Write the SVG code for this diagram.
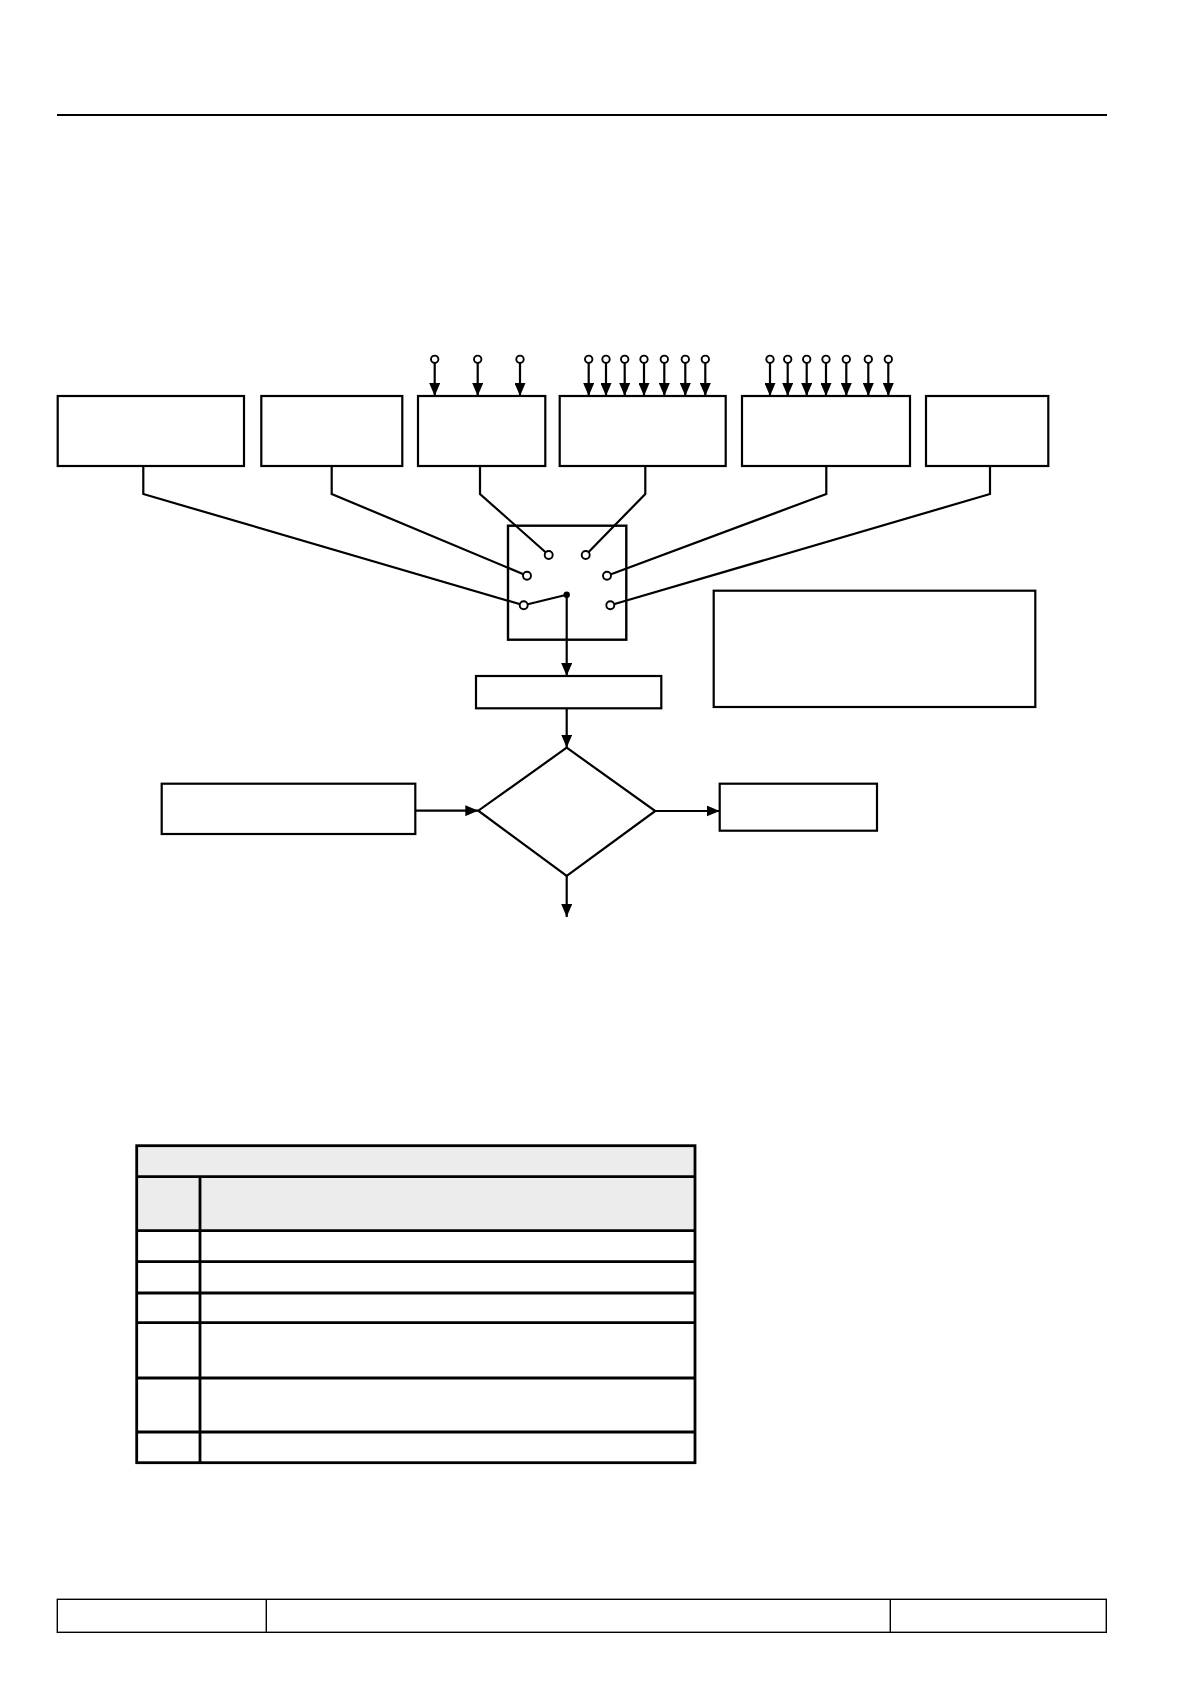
<svg xmlns="http://www.w3.org/2000/svg" width="1191" height="1684" viewBox="0 0 1191 1684">
<style>
.box{fill:#fff;stroke:#000;stroke-width:2.2}
.ln{fill:none;stroke:#000;stroke-width:2.2}
.pin{fill:#fff;stroke:#000;stroke-width:1.9}
.tbl{stroke:#000;stroke-width:2.8;fill:none}
.hdr{fill:#ececec}
.thin{fill:none;stroke:#000;stroke-width:1.4}
</style>
<defs>
<marker id="ah" markerUnits="userSpaceOnUse" markerWidth="13" markerHeight="11" refX="13" refY="5.5" orient="auto">
<path d="M0,0 L13,5.5 L0,11 Z" fill="#000"/>
</marker>
</defs>
<rect width="1191" height="1684" fill="#fff"/>
<line x1="57" y1="115" x2="1107" y2="115" stroke="#000" stroke-width="2.2"/>

<g id="connectors">
<polyline class="ln" points="143.3,466 143.3,494 523.7,605.3"/>
<polyline class="ln" points="331.7,466 331.7,494 527,575.7"/>
<polyline class="ln" points="480,466 480,494 548.7,555"/>
<polyline class="ln" points="645.3,466 645.3,494 585.7,555"/>
<polyline class="ln" points="826.3,466 826.3,494 607,575.7"/>
<polyline class="ln" points="990,466 990,494 610.3,605.3"/>
<line class="ln" x1="566.7" y1="594.7" x2="523.7" y2="605.3"/>
<line class="ln" x1="566.7" y1="594.7" x2="566.7" y2="676" marker-end="url(#ah)"/>
<line class="ln" x1="566.7" y1="708.3" x2="566.7" y2="747.7" marker-end="url(#ah)"/>
<line class="ln" x1="566.7" y1="876" x2="566.7" y2="917" marker-end="url(#ah)"/>
<line class="ln" x1="415.3" y1="810.7" x2="478.3" y2="810.7" marker-end="url(#ah)"/>
<line class="ln" x1="655.3" y1="811" x2="719.7" y2="811" marker-end="url(#ah)"/>
<g id="pins-lines">
<line class="ln" x1="434.7" y1="363" x2="434.7" y2="396" marker-end="url(#ah)"/>
<line class="ln" x1="477.7" y1="363" x2="477.7" y2="396" marker-end="url(#ah)"/>
<line class="ln" x1="520" y1="363" x2="520" y2="396" marker-end="url(#ah)"/>
<line class="ln" x1="588.7" y1="363" x2="588.7" y2="396" marker-end="url(#ah)"/>
<line class="ln" x1="606" y1="363" x2="606" y2="396" marker-end="url(#ah)"/>
<line class="ln" x1="624.7" y1="363" x2="624.7" y2="396" marker-end="url(#ah)"/>
<line class="ln" x1="644" y1="363" x2="644" y2="396" marker-end="url(#ah)"/>
<line class="ln" x1="664.3" y1="363" x2="664.3" y2="396" marker-end="url(#ah)"/>
<line class="ln" x1="685.3" y1="363" x2="685.3" y2="396" marker-end="url(#ah)"/>
<line class="ln" x1="705.3" y1="363" x2="705.3" y2="396" marker-end="url(#ah)"/>
<line class="ln" x1="770" y1="363" x2="770" y2="396" marker-end="url(#ah)"/>
<line class="ln" x1="787.7" y1="363" x2="787.7" y2="396" marker-end="url(#ah)"/>
<line class="ln" x1="806.7" y1="363" x2="806.7" y2="396" marker-end="url(#ah)"/>
<line class="ln" x1="826" y1="363" x2="826" y2="396" marker-end="url(#ah)"/>
<line class="ln" x1="846.3" y1="363" x2="846.3" y2="396" marker-end="url(#ah)"/>
<line class="ln" x1="868.3" y1="363" x2="868.3" y2="396" marker-end="url(#ah)"/>
<line class="ln" x1="888.3" y1="363" x2="888.3" y2="396" marker-end="url(#ah)"/>
</g>
</g>

<g id="box1"><rect class="box" x="57.7" y="396" width="186.3" height="70"/></g>
<g id="box2"><rect class="box" x="261.3" y="396" width="141" height="70"/></g>
<g id="box3"><rect class="box" x="418" y="396" width="127.3" height="70"/></g>
<g id="box4"><rect class="box" x="559.7" y="396" width="166" height="70"/></g>
<g id="box5"><rect class="box" x="742" y="396" width="168" height="70"/></g>
<g id="box6"><rect class="box" x="926" y="396" width="122.3" height="70"/></g>

<g id="pins">
<circle class="pin" cx="434.7" cy="359.3" r="3.7"/>
<circle class="pin" cx="477.7" cy="359.3" r="3.7"/>
<circle class="pin" cx="520" cy="359.3" r="3.7"/>
<circle class="pin" cx="588.7" cy="359.3" r="3.7"/>
<circle class="pin" cx="606" cy="359.3" r="3.7"/>
<circle class="pin" cx="624.7" cy="359.3" r="3.7"/>
<circle class="pin" cx="644" cy="359.3" r="3.7"/>
<circle class="pin" cx="664.3" cy="359.3" r="3.7"/>
<circle class="pin" cx="685.3" cy="359.3" r="3.7"/>
<circle class="pin" cx="705.3" cy="359.3" r="3.7"/>
<circle class="pin" cx="770" cy="359.3" r="3.7"/>
<circle class="pin" cx="787.7" cy="359.3" r="3.7"/>
<circle class="pin" cx="806.7" cy="359.3" r="3.7"/>
<circle class="pin" cx="826" cy="359.3" r="3.7"/>
<circle class="pin" cx="846.3" cy="359.3" r="3.7"/>
<circle class="pin" cx="868.3" cy="359.3" r="3.7"/>
<circle class="pin" cx="888.3" cy="359.3" r="3.7"/>
</g>

<g id="switch">
<rect x="508" y="525.7" width="118.3" height="114" fill="none" stroke="#000" stroke-width="2.4"/>
<circle class="pin" cx="548.7" cy="555" r="4"/>
<circle class="pin" cx="585.7" cy="555" r="4"/>
<circle class="pin" cx="527" cy="575.7" r="4"/>
<circle class="pin" cx="607" cy="575.7" r="4"/>
<circle class="pin" cx="523.7" cy="605.3" r="4"/>
<circle class="pin" cx="610.3" cy="605.3" r="4"/>
<circle cx="566.7" cy="594.7" r="3.2" fill="#000"/>
</g>

<g id="proc"><rect class="box" x="476" y="676" width="185.3" height="32.3"/></g>
<g id="decision"><polygon class="box" points="566.7,747.7 655.3,811 566.7,876 478.3,810.7"/></g>
<g id="leftbox"><rect class="box" x="161.7" y="783.7" width="253.6" height="50.3"/></g>
<g id="rightbox"><rect class="box" x="719.7" y="783.7" width="157.3" height="47"/></g>
<g id="note"><rect class="box" x="713.7" y="590.7" width="321.6" height="116.3"/></g>

<g id="table">
<rect class="hdr" x="136.7" y="1145.7" width="558.3" height="85"/>
<rect class="tbl" x="136.7" y="1145.7" width="558.3" height="317"/>
<line class="tbl" x1="136.7" y1="1176.7" x2="695" y2="1176.7"/>
<line class="tbl" x1="136.7" y1="1230.7" x2="695" y2="1230.7"/>
<line class="tbl" x1="136.7" y1="1261.7" x2="695" y2="1261.7"/>
<line class="tbl" x1="136.7" y1="1293" x2="695" y2="1293"/>
<line class="tbl" x1="136.7" y1="1322.7" x2="695" y2="1322.7"/>
<line class="tbl" x1="136.7" y1="1378" x2="695" y2="1378"/>
<line class="tbl" x1="136.7" y1="1432" x2="695" y2="1432"/>
<line class="tbl" x1="200" y1="1176.7" x2="200" y2="1462.7"/>
</g>

<g id="footer">
<rect class="thin" x="57.3" y="1599.3" width="1049" height="33"/>
<line class="thin" x1="266.3" y1="1599.3" x2="266.3" y2="1632.3"/>
<line class="thin" x1="890.3" y1="1599.3" x2="890.3" y2="1632.3"/>
</g>
</svg>
